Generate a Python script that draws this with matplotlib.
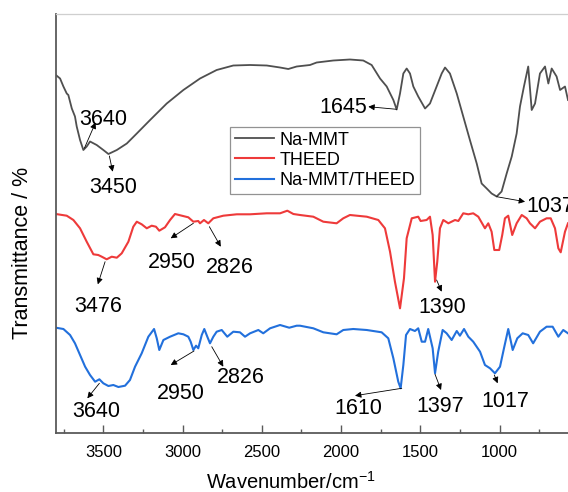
import numpy as np
import matplotlib
matplotlib.use("Agg")
import matplotlib.pyplot as plt
from matplotlib.ticker import MultipleLocator

plt.rcParams['font.family'] = ['Liberation Sans', 'DejaVu Sans']
plt.rcParams['mathtext.default'] = 'regular'

# FTIR spectra (wavenumber in cm^-1, stacked transmittance in arbitrary units)
wn_mmt = [3800, 3773, 3752, 3731, 3721, 3699, 3679, 3668, 3647, 3626, 3605, 3584, 3542, 3500,
          3468, 3415, 3352, 3289, 3205, 3100, 2995, 2890, 2785, 2680, 2574, 2469, 2385, 2333,
          2280, 2196, 2154, 2049, 1944, 1860, 1807, 1754, 1712, 1670, 1649, 1628, 1607, 1586,
          1565, 1544, 1513, 1470, 1439, 1397, 1365, 1344, 1313, 1270, 1229, 1187, 1144, 1113,
          1081, 1050, 1018, 987, 955, 923, 892, 871, 846, 819, 797, 776, 745, 713, 692, 671,
          640, 618, 587, 568]
t_mmt = [357.5, 354, 346, 339, 337.5, 324, 316, 306, 292.5, 282.5, 286, 291, 287.5, 282.5,
         278.5, 282.5, 289, 299, 312.5, 329, 342.5, 354, 362.5, 367, 367.5, 367, 365, 363.5,
         366, 367.5, 370, 372, 373, 372, 367.5, 354, 346, 332.5, 323, 339, 359, 364,
         359, 346, 336, 324, 329, 346, 359, 365, 359, 339, 316, 292.5, 269, 249,
         244, 239, 236, 241, 259, 276, 299, 326, 346, 366, 322.5, 329, 359, 366, 349, 364,
         356, 342.5, 346, 332.5]

wn_theed = [3800, 3731, 3689, 3647, 3605, 3563, 3532, 3510, 3479, 3447, 3415, 3384, 3342, 3311,
            3289, 3258, 3226, 3195, 3168, 3147, 3111, 3079, 3048, 3005, 2964, 2932, 2901, 2890,
            2865, 2838, 2806, 2743, 2658, 2574, 2469, 2385, 2339, 2301, 2259, 2175, 2112, 2028,
            1986, 1944, 1838, 1765, 1723, 1691, 1660, 1628, 1603, 1586, 1554, 1513, 1498, 1460,
            1439, 1422, 1407, 1393, 1376, 1355, 1323, 1281, 1260, 1229, 1197, 1166, 1134, 1092,
            1071, 1050, 1033, 1002, 983, 966, 945, 920, 892, 860, 829, 808, 776, 745, 703, 677,
            650, 629, 614, 587, 568]
t_theed = [218.5, 216.8, 212.5, 204.2, 190.8, 178.2, 177.5, 175.8, 173.2, 175.8, 174.8, 179.2,
           190.8, 205.8, 210.8, 208.2, 204.2, 206.8, 205.8, 201.8, 205.2, 212.5, 218.5, 216.8,
           215.2, 210.8, 211.5, 209.2, 212.5, 209.2, 214.2, 216.8, 218.2, 218.2, 219.2, 219.2,
           221.8, 218.5, 217.5, 215.8, 210.8, 209.2, 214.2, 217.5, 215.8, 212.5, 204.2, 180.8,
           150.8, 124.2, 154.2, 194.2, 214.2, 215.8, 211.5, 212.5, 215.8, 197.5, 150.8, 170.8,
           204.2, 212.5, 209.2, 212.5, 211.5, 219.2, 218.2, 219.2, 215.8, 204.2, 209.2, 200.8,
           182.5, 182.5, 197.5, 214.2, 216.8, 197.5, 209.2, 217.5, 214.2, 209.2, 204.2, 210.8,
           214.2, 214.2, 204.2, 184.2, 180.2, 200.8, 209.2]

wn_mix = [3800, 3752, 3710, 3679, 3647, 3615, 3584, 3552, 3525, 3500, 3468, 3437, 3405, 3363,
          3332, 3300, 3258, 3216, 3180, 3163, 3147, 3121, 3079, 3027, 2995, 2964, 2949, 2932,
          2915, 2901, 2879, 2863, 2844, 2827, 2806, 2785, 2753, 2718, 2680, 2638, 2606, 2574,
          2522, 2491, 2448, 2385, 2327, 2280, 2259, 2175, 2112, 2028, 1986, 1923, 1838, 1744,
          1702, 1670, 1639, 1624, 1607, 1590, 1565, 1534, 1513, 1491, 1470, 1450, 1422, 1407,
          1387, 1359, 1334, 1302, 1270, 1250, 1224, 1197, 1166, 1123, 1092, 1060, 1029, 997,
          972, 945, 917, 888, 854, 819, 788, 745, 703, 665, 629, 598, 568]
t_mix = [104.8, 103.5, 97.5, 89.2, 77.5, 65.8, 57.5, 50.8, 53.2, 49.2, 46.5, 47.5, 45.5, 46.8,
         52.5, 65.8, 79.2, 95.8, 103.5, 94.2, 82.5, 92.5, 95.8, 99.2, 98.2, 95.8, 90.8, 82.5,
         86.8, 84.2, 97.5, 103.5, 95.8, 89.2, 95.8, 100.8, 102.5, 95.8, 100.8, 100.2, 95.8, 99.2,
         102.5, 99.2, 104.2, 107.5, 104.8, 106.8, 106.8, 104.2, 100.2, 98.2, 102.5, 103.5, 102.5,
         100.2, 94.2, 74.2, 50.8, 44.2, 67.5, 97.5, 103.5, 101.5, 104.2, 90.8, 90.8, 103.5, 84.2,
         59.2, 80.8, 102.5, 99.2, 92.5, 101.5, 96.8, 103.5, 95.8, 90.8, 80.8, 67.5, 64.2, 59.2,
         65.8, 84.2, 103.5, 82.5, 94.2, 99.2, 97.5, 89.2, 100.8, 105.8, 105.8, 95.8, 102.5, 99.2]

series_names = ['Na-MMT', 'THEED', 'Na-MMT/THEED']

fig = plt.figure(figsize=(5.68, 4.92), dpi=100)
ax = fig.add_axes([55.8 / 568, 59.5 / 492, (568 - 55.8) / 568, 418.5 / 492])

ax.plot(wn_mmt, t_mmt, color='#4f4f4f', lw=1.3, label=series_names[0], solid_joinstyle='round')
ax.plot(wn_theed, t_theed, color='#ee3a3a', lw=1.5, label=series_names[1], solid_joinstyle='round')
ax.plot(wn_mix, t_mix, color='#2270dc', lw=1.5, label=series_names[2], solid_joinstyle='round')

ax.set_xlim(3800, 568)
ax.set_ylim(0, 418.5)

for side in ('left', 'bottom'):
    ax.spines[side].set_color('#5a5a5a')
    ax.spines[side].set_linewidth(1.3)
ax.spines['top'].set_color('#cfcfcf')
ax.spines['top'].set_linewidth(0.9)
ax.spines['right'].set_visible(False)

ax.xaxis.set_major_locator(MultipleLocator(500))
ax.xaxis.set_minor_locator(MultipleLocator(250))
ax.tick_params(axis='x', which='major', direction='in', length=6, width=1.0,
               color='#5a5a5a', labelsize=12, pad=9, top=False)
ax.tick_params(axis='x', which='minor', direction='in', length=3, width=1.0,
               color='#5a5a5a', top=False)
ax.set_yticks([])

ax.set_xlabel('Wavenumber/cm$^{-1}$', fontsize=14.5)
ax.xaxis.set_label_coords(0.459, -0.091)
ax.set_ylabel('Transmittance / %', fontsize=15.5)
ax.yaxis.set_label_coords(-0.045, 0.428)

leg = ax.legend(loc='upper left', bbox_to_anchor=(230 / 568, 1 - 127 / 492),
                bbox_transform=fig.transFigure, fontsize=13, frameon=True, fancybox=False,
                borderaxespad=0, borderpad=0.25, labelspacing=0.18, handlelength=2.2,
                handletextpad=0.3)
leg.get_frame().set_edgecolor('#777777')
leg.get_frame().set_linewidth(0.9)


def peak(label, tail, head, text_xy, ha='center'):
    ax.annotate('', xy=head, xytext=tail,
                arrowprops=dict(arrowstyle='-|>', color='black', lw=0.6,
                                mutation_scale=9, shrinkA=0, shrinkB=0))
    ax.text(text_xy[0], text_xy[1], label, ha=ha, va='baseline', fontsize=15.5,
            color='black')


# Na-MMT
peak('3640', (3619, 284.5), (3549, 310), (3499, 307.5))
peak('3450', (3462, 276.5), (3441, 260.8), (3437, 239.2))
peak('1645', (1649, 323.2), (1828, 325.8), (1836, 319.8), ha='right')
peak('1037', (1018, 235.8), (839, 230.8), (829, 220.8), ha='left')
# THEED
peak('3476', (3489, 170.8), (3535, 148.2), (3532, 120.8))
peak('2950', (2932, 209.2), (3075, 194.2), (3068, 164.8))
peak('2826', (2831, 205.8), (2759, 185.8), (2705, 159.2))
peak('1390', (1397, 152.5), (1365, 140.8), (1359, 119.2))
# Na-MMT/THEED
peak('3640', (3525, 49.2), (3601, 34.2), (3546, 15.5))
peak('2950', (2928, 81.5), (3075, 67.5), (3012, 33.5))
peak('2826', (2816, 85.8), (2743, 65.8), (2633, 49.2))
peak('1610', (1617, 44.2), (1912, 36.8), (1891, 18.8))
peak('1397', (1407, 58.2), (1369, 42.5), (1376, 20.2))
peak('1017', (1033, 57.5), (1012, 49.2), (961, 25.8))

fig.savefig('out.png', dpi=100)
